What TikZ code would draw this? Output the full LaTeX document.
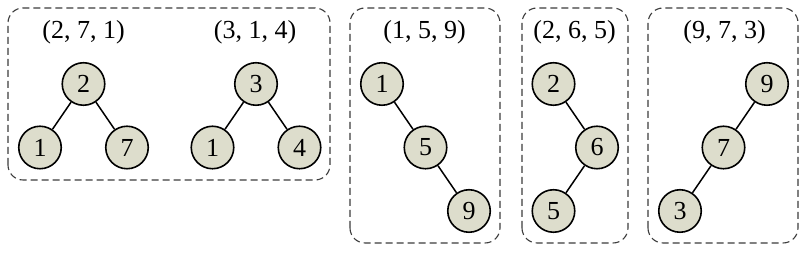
\documentclass[tikz,border=0pt]{standalone}
\usepackage{fontspec}
\setmainfont{Liberation Serif}
\usepackage{tikz}
\usetikzlibrary{positioning}
\definecolor{keyfill}{RGB}{221,221,204}
\definecolor{grpline}{RGB}{60,60,60}

\begin{document}
\begin{tikzpicture}[x=1pt, y=1pt,
        node distance = 63.5pt and 43.5pt, on grid,
        key/.style   = {circle, draw, line width=1.6pt, fill=keyfill, minimum size=42.5pt, inner sep=0pt, font=\fontsize{26}{30}\selectfont},
        seq/.style   = {font=\fontsize{26}{30}\selectfont},
        grp/.style   = {draw=grpline, dash pattern=on 7pt off 4pt, line width=1.1pt, rounded corners=15pt},
        edge/.style  = {line width=1.5pt},
    ]
        \useasboundingbox (0,0) rectangle (808,253);
        % groups
        \draw[grp] (8,73) rectangle (330,245);
        \draw[grp] (350,10) rectangle (500,245);
        \draw[grp] (522,10) rectangle (628,245);
        \draw[grp] (648,10) rectangle (798,245);
        % (2, 7, 1)
        \node[seq] (sa) at (83.5,221) {(2, 7, 1)};
        \node[key] (a2) at (83.5,169) {2};
        \node[key, below left=of a2]  (a1) {1};
        \node[key, below right=of a2] (a7) {7};
        \draw[edge] (a2) -- (a1);
        \draw[edge] (a2) -- (a7);
        % (3, 1, 4)
        \node[seq] (sb) at (255,221) {(3, 1, 4)};
        \node[key] (b3) at (256,169) {3};
        \node[key, below left=of b3]  (b1) {1};
        \node[key, below right=of b3] (b4) {4};
        \draw[edge] (b3) -- (b1);
        \draw[edge] (b3) -- (b4);
        % (1, 5, 9)
        \node[seq] (sc) at (424.5,221) {(1, 5, 9)};
        \node[key] (c1) at (382,169) {1};
        \node[key, below right=of c1] (c5) {5};
        \node[key, below right=of c5] (c9) {9};
        \draw[edge] (c1) -- (c5);
        \draw[edge] (c5) -- (c9);
        % (2, 6, 5)
        \node[seq] (sd) at (574.5,221) {(2, 6, 5)};
        \node[key] (d2) at (553.5,169) {2};
        \node[key, below right=of d2] (d6) {6};
        \node[key, below left=of d6]  (d5) {5};
        \draw[edge] (d2) -- (d6);
        \draw[edge] (d6) -- (d5);
        % (9, 7, 3)
        \node[seq] (se) at (724.5,221) {(9, 7, 3)};
        \node[key] (e9) at (767,169) {9};
        \node[key, below left=of e9] (e7) {7};
        \node[key, below left=of e7] (e3) {3};
        \draw[edge] (e9) -- (e7);
        \draw[edge] (e7) -- (e3);
    \end{tikzpicture}
\end{document}
